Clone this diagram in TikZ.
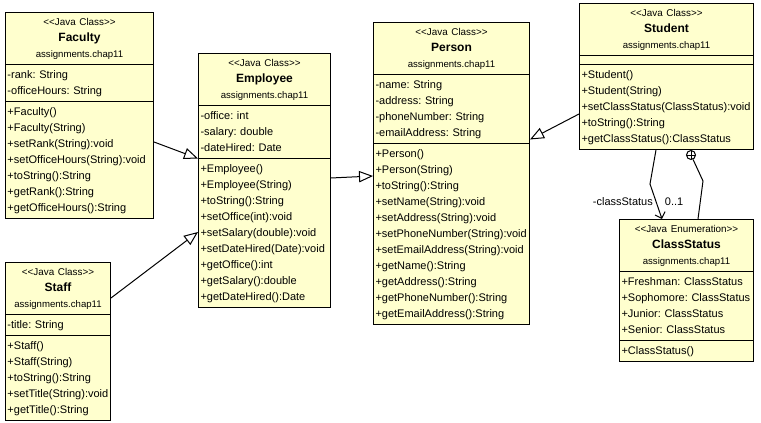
\documentclass[tikz,border=0pt]{standalone}
\usepackage{fontspec}
\setmainfont[Ligatures=TeXOff]{Liberation Sans}
\usepackage{tikz}
\usetikzlibrary{arrows.meta,shapes.multipart,calc,positioning}

\definecolor{classfill}{RGB}{255,255,206}
\frenchspacing

% header and member rows of a class box
\newcommand{\umlhead}[2]{%
  \centering\offinterlineskip
  {\fontsize{7.4}{11.75}\selectfont\strut<<#1>>\par}%
  {\fontsize{9}{11.75}\selectfont\bfseries\strut#2\par}%
  {\fontsize{7.2}{11.75}\selectfont\strut assignments.chap11\par}}
\newcommand{\umlrows}[1]{%
  \offinterlineskip\fontsize{8.25}{12}\selectfont
  \foreach \entry in {#1}{\strut\entry\par}}

\begin{document}
\begin{tikzpicture}[x=0.75pt,y=-0.75pt,line width=0.75pt,
    font=\fontsize{8.25}{12}\selectfont,
    umlclass/.style={rectangle split,rectangle split parts=3,draw,
      fill=classfill,anchor=north west,inner xsep=1.5pt,inner ysep=1.5pt},
    gen/.style={-{Triangle[open,length=10.5pt,width=8.5pt]}},
    assoc/.style={-{Straight Barb[length=4pt,width=8pt]}},
    nestmark/.style={circle,draw,fill=white,inner sep=0pt,minimum size=6.75pt,
      path picture={\draw[line width=0.5pt]
        (path picture bounding box.north) -- (path picture bounding box.south)
        (path picture bounding box.west) -- (path picture bounding box.east);}}]

    \fill[white] (0,0) rectangle (761,423);
    \useasboundingbox (0,0) rectangle (761,423);

    \node[umlclass,text width=108pt] (faculty) at (5,12)
      {\umlhead{Java Class}{Faculty}
       \nodepart{second}\umlrows{-rank: String,-officeHours: String}
       \nodepart{third}\umlrows{+Faculty(),+Faculty(String),+setRank(String):void,
         +setOfficeHours(String):void,+toString():String,+getRank():String,
         +getOfficeHours():String}};
    \node[umlclass,text width=96pt] (employee) at (198,53)
      {\umlhead{Java Class}{Employee}
       \nodepart{second}\umlrows{-office: int,-salary: double,-dateHired: Date}
       \nodepart{third}\umlrows{+Employee(),+Employee(String),+toString():String,
         +setOffice(int):void,+setSalary(double):void,+setDateHired(Date):void,
         +getOffice():int,+getSalary():double,+getDateHired():Date}};
    \node[umlclass,text width=114pt] (person) at (373,22)
      {\umlhead{Java Class}{Person}
       \nodepart{second}\umlrows{-name: String,-address: String,
         -phoneNumber: String,-emailAddress: String}
       \nodepart{third}\umlrows{+Person(),+Person(String),+toString():String,
         +setName(String):void,+setAddress(String):void,
         +setPhoneNumber(String):void,+setEmailAddress(String):void,
         +getName():String,+getAddress():String,+getPhoneNumber():String,
         +getEmailAddress():String}};
    \node[umlclass,text width=127.5pt] (student) at (579,3)
      {\umlhead{Java Class}{Student}
       \nodepart{second}\rule{0pt}{3pt}
       \nodepart{third}\umlrows{+Student(),+Student(String),
         +setClassStatus(ClassStatus):void,+toString():String,
         +getClassStatus():ClassStatus}};
    \node[umlclass,text width=97.5pt] (cstatus) at (619,219)
      {\umlhead{Java Enumeration}{ClassStatus}
       \nodepart{second}\umlrows{+Freshman: ClassStatus,+Sophomore: ClassStatus,
         +Junior: ClassStatus,+Senior: ClassStatus}
       \nodepart{third}\umlrows{+ClassStatus()}};
    \node[umlclass,text width=75.75pt] (staff) at (5,262)
      {\umlhead{Java Class}{Staff}
       \nodepart{second}\umlrows{-title: String}
       \nodepart{third}\umlrows{+Staff(),+Staff(String),+toString():String,
         +setTitle(String):void,+getTitle():String}};

    % generalizations
    \draw[gen] ($(faculty.north east)+(0,130)$) -- (employee.two split west);
    \draw[gen] ($(staff.north east)+(0,36)$) -- ($(employee.north west)+(0,179)$);
    \draw[gen] ($(employee.north east)+(0,125)$) -- ($(person.north west)+(0,154)$);
    \draw[gen] ($(student.north west)+(0,111)$) -- ($(person.two split east)+(0,-4)$);

    % association and nesting
    \draw[assoc] ($(student.south west)+(77,0)$) -- ++(-6,34)
      -- node[left,inner sep=2pt] {-classStatus} node[right=3pt] {0..1}
      ($(cstatus.north west)+(43,0)$);
    \node[nestmark,anchor=north] (nest) at ($(student.south west)+(112,0)$) {};
    \draw ($(cstatus.north west)+(79,0)$) -- ++(5,-38) -- (nest);
\end{tikzpicture}
\end{document}
